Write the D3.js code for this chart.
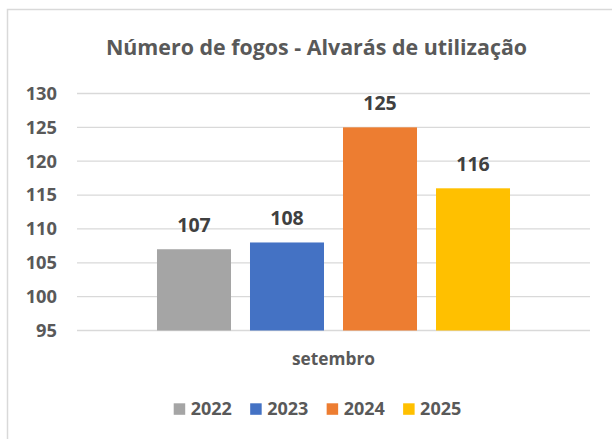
<!DOCTYPE html>
<html>
<head>
<meta charset="utf-8">
<script src="https://cdn.jsdelivr.net/npm/d3@7"></script>
<style>
  html, body { margin: 0; padding: 0; background: #fff; }
  svg { display: block; }
  text { font-family: "Open Sans", Lato, sans-serif; font-weight: bold; }
</style>
</head>
<body>
<svg id="chart" width="612" height="439"></svg>
<script>
const title = "Número de fogos - Alvarás de utilização";
const categories = ["setembro"];
const years = ["2022", "2023", "2024", "2025"];
const values = [107, 108, 125, 116];
const colors = ["#A5A5A5", "#4472C4", "#ED7D31", "#FFC000"];
const yTicks = [95, 100, 105, 110, 115, 120, 125, 130];

const FONT = '"Open Sans", Lato, sans-serif';
const svg = d3.select("#chart");

// chart border (right/bottom cropped in the reference)
svg.append("rect")
  .attr("x", 7.5).attr("y", 9.5).attr("width", 640).attr("height", 460)
  .attr("fill", "#fff").attr("stroke", "#d9d9d9").attr("stroke-width", 1.5);

const plot = { left: 77, right: 590, top: 93.5, bottom: 330.5 };

const y = d3.scaleLinear().domain([95, 130]).range([plot.bottom, plot.top]);
const x0 = d3.scaleBand().domain(categories).range([plot.left, plot.right])
  .paddingInner(0).paddingOuter(0.2266);
const x1 = d3.scaleBand().domain(years).range([0, x0.bandwidth()])
  .paddingInner(0.2043).paddingOuter(0);

// title
svg.append("text")
  .attr("x", 316.5).attr("y", 54.5)
  .attr("text-anchor", "middle")
  .attr("fill", "#595959")
  .style("font-size", "21.4px")
  .text(title);

// gridlines
svg.append("g")
  .selectAll("line").data(yTicks).join("line")
  .attr("x1", plot.left).attr("x2", plot.right)
  .attr("y1", d => y(d)).attr("y2", d => y(d))
  .attr("stroke", "#d9d9d9").attr("stroke-width", 1.3);

// y axis labels
const yAxis = d3.axisLeft(y).tickValues(yTicks).tickSize(0).tickPadding(0);
const gy = svg.append("g").attr("transform", "translate(57,0)").call(yAxis);
gy.select(".domain").remove();
gy.selectAll("text")
  .attr("fill", "#595959")
  .style("font-size", "18.3px")
  .style("font-family", FONT)
  .style("font-weight", "bold");

// bars
const data = years.map((yr, i) => ({ cat: categories[0], year: yr, value: values[i], color: colors[i] }));
const g = svg.append("g");
g.selectAll("rect").data(data).join("rect")
  .attr("x", d => x0(d.cat) + x1(d.year))
  .attr("width", x1.bandwidth())
  .attr("y", d => y(d.value))
  .attr("height", d => y(95) - y(d.value))
  .attr("fill", d => d.color);

// data labels
g.selectAll("text.lbl").data(data).join("text")
  .attr("class", "lbl")
  .attr("x", d => x0(d.cat) + x1(d.year) + x1.bandwidth() / 2)
  .attr("y", d => y(d.value) - 17)
  .attr("text-anchor", "middle")
  .attr("fill", "#404040")
  .style("font-size", "19.5px")
  .text(d => d.value);

// x axis category label
const xAxis = d3.axisBottom(x0).tickSize(0).tickPadding(0);
const gx = svg.append("g").attr("transform", `translate(0,${plot.bottom})`).call(xAxis);
gx.select(".domain").remove();
gx.selectAll("text")
  .attr("dy", null)
  .attr("y", 34.5)
  .attr("fill", "#595959")
  .style("font-size", "17.3px")
  .style("font-family", FONT)
  .style("font-weight", "bold");

// legend
const legend = svg.append("g");
const items = legend.selectAll("g").data(data).join("g");
items.append("rect")
  .attr("width", 11.5).attr("height", 11.5)
  .attr("y", 403.3)
  .attr("fill", d => d.color);
items.append("text")
  .attr("x", 17).attr("y", 415.3)
  .attr("fill", "#595959")
  .style("font-size", "18px")
  .text(d => d.year);
let widths = [];
items.each(function() { widths.push(11.5 + 5.5 + d3.select(this).select("text").node().getComputedTextLength()); });
const spacing = 18.3;
const total = d3.sum(widths) + spacing * (widths.length - 1);
let cx = 317.5 - total / 2;
items.attr("transform", (d, i) => { const t = `translate(${cx},0)`; cx += widths[i] + spacing; return t; });
</script>
</body>
</html>
